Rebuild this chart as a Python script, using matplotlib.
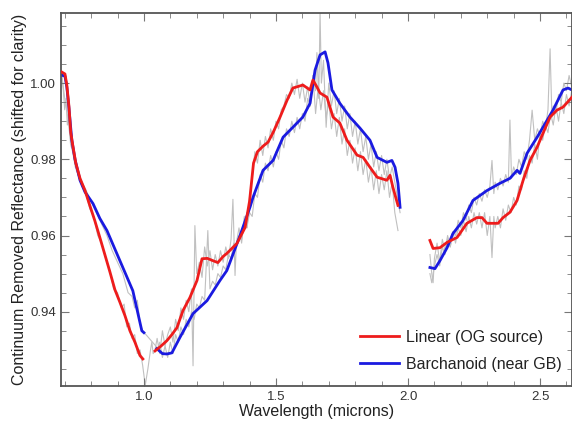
import matplotlib
matplotlib.use("Agg")
import matplotlib.pyplot as plt
from matplotlib.ticker import MultipleLocator

plt.rcParams['font.family'] = ['Liberation Sans', 'DejaVu Sans']

# ---- data ----
lin_x1 = [0.689, 0.701, 0.708, 0.716, 0.723, 0.731, 0.742, 0.758, 0.777, 0.795, 0.814, 0.833,
          0.852, 0.871, 0.890, 0.909, 0.928, 0.947, 0.966, 0.985, 0.996]
lin_y1 = [1.0029, 1.0024, 0.9995, 0.9940, 0.9870, 0.9835, 0.9790, 0.9750, 0.9718, 0.9679, 0.9639, 0.9595,
          0.9550, 0.9505, 0.9458, 0.9425, 0.9390, 0.9350, 0.9320, 0.9285, 0.9276]
bar_x1 = [0.689, 0.701, 0.708, 0.716, 0.727, 0.739, 0.758, 0.777, 0.807, 0.833, 0.860, 0.909, 0.958, 0.992, 1.000]
bar_y1 = [1.0021, 1.0018, 0.9990, 0.9935, 0.9850, 0.9800, 0.9745, 0.9714, 0.9684, 0.9645, 0.9613, 0.9534,
          0.9455, 0.9350, 0.9345]

lin_x2 = [1.042, 1.065, 1.087, 1.106, 1.125, 1.148, 1.174, 1.201, 1.220, 1.240, 1.261, 1.280, 1.300, 1.314,
          1.352, 1.383, 1.400, 1.415, 1.430, 1.452, 1.470, 1.489, 1.515, 1.542, 1.564, 1.602, 1.629, 1.640,
          1.655, 1.667, 1.693, 1.716, 1.742, 1.769, 1.807, 1.830, 1.856, 1.883, 1.920, 1.932, 1.943, 1.962]
lin_y2 = [0.9297, 0.9310, 0.9324, 0.9340, 0.9358, 0.9403, 0.9437, 0.9482, 0.9539, 0.9540, 0.9534, 0.9529,
          0.9545, 0.9553, 0.9579, 0.9621, 0.9690, 0.9790, 0.9820, 0.9835, 0.9845, 0.9870, 0.9910, 0.9955,
          0.9987, 0.9995, 0.9982, 1.0008, 0.9990, 0.9974, 0.9963, 0.9911, 0.9895, 0.9850, 0.9811, 0.9805,
          0.9779, 0.9753, 0.9745, 0.9758, 0.9726, 0.9679]
bar_x2 = [1.049, 1.070, 1.087, 1.106, 1.136, 1.186, 1.239, 1.288, 1.314, 1.364, 1.402, 1.413, 1.451, 1.489,
          1.527, 1.564, 1.602, 1.629, 1.648, 1.667, 1.686, 1.697, 1.712, 1.742, 1.780, 1.818, 1.856, 1.883,
          1.920, 1.939, 1.951, 1.962, 1.970]
bar_y2 = [0.9303, 0.9290, 0.9289, 0.9292, 0.9332, 0.9395, 0.9429, 0.9482, 0.9508, 0.9600, 0.9675, 0.9700,
          0.9771, 0.9797, 0.9858, 0.9884, 0.9911, 0.9947, 1.0034, 1.0074, 1.0082, 1.0053, 0.9982, 0.9947,
          0.9911, 0.9882, 0.9850, 0.9805, 0.9792, 0.9797, 0.9779, 0.9737, 0.9674]

lin_x3 = [2.083, 2.095, 2.121, 2.148, 2.186, 2.223, 2.261, 2.280, 2.299, 2.341, 2.360, 2.386, 2.413, 2.436,
          2.462, 2.489, 2.511, 2.538, 2.564, 2.587, 2.621]
lin_y3 = [0.9587, 0.9566, 0.9568, 0.9582, 0.9595, 0.9632, 0.9647, 0.9647, 0.9632, 0.9632, 0.9647, 0.9661,
          0.9692, 0.9745, 0.9797, 0.9832, 0.9868, 0.9911, 0.9929, 0.9937, 0.9963]
bar_x3 = [2.083, 2.102, 2.121, 2.148, 2.170, 2.208, 2.246, 2.299, 2.348, 2.386, 2.413, 2.424, 2.451, 2.489,
          2.511, 2.549, 2.587, 2.606, 2.621]
bar_y3 = [0.9516, 0.9513, 0.9534, 0.9568, 0.9605, 0.9639, 0.9692, 0.9718, 0.9737, 0.9750, 0.9771, 0.9763,
          0.9816, 0.9858, 0.9884, 0.9929, 0.9982, 0.9987, 0.9982]

# raw (unsmoothed) spectra, drawn in light grey
raw_lin_x1 = [0.689, 0.695, 0.700, 0.705, 0.710, 0.716, 0.722, 0.730, 0.740, 0.750, 0.765, 0.780, 0.795,
              0.810, 0.825, 0.840, 0.855, 0.870, 0.885, 0.900, 0.915, 0.925, 0.935, 0.945, 0.955, 0.965,
              0.975, 0.985, 0.995, 1.005, 1.015, 1.025, 1.030, 1.035,
              1.042, 1.05, 1.06, 1.07, 1.08, 1.09, 1.10, 1.11, 1.12, 1.13, 1.14, 1.15, 1.16, 1.17, 1.18,
              1.186, 1.193, 1.20, 1.21, 1.22, 1.23, 1.24, 1.25, 1.26, 1.27, 1.28, 1.29, 1.30, 1.31, 1.32,
              1.33, 1.337, 1.345, 1.35, 1.36, 1.37, 1.38, 1.39, 1.40, 1.41, 1.42, 1.43, 1.44, 1.45, 1.46,
              1.47, 1.48, 1.49, 1.50, 1.51, 1.52, 1.53, 1.54, 1.55, 1.56, 1.57, 1.58, 1.59, 1.60, 1.61,
              1.62, 1.63, 1.64, 1.65, 1.66, 1.67, 1.68, 1.69, 1.70, 1.71, 1.72, 1.73, 1.74, 1.75, 1.76,
              1.77, 1.78, 1.79, 1.80, 1.81, 1.82, 1.83, 1.84, 1.85, 1.86, 1.87, 1.88, 1.89, 1.90, 1.91,
              1.92, 1.93, 1.94, 1.95, 1.962]
raw_lin_y1 = [1.002, 0.998, 0.993, 0.996, 0.989, 0.991, 0.984, 0.982, 0.978, 0.976, 0.973, 0.971, 0.967,
              0.965, 0.960, 0.958, 0.954, 0.951, 0.946, 0.945, 0.941, 0.942, 0.936, 0.937, 0.933, 0.934,
              0.929, 0.930, 0.926, 0.9207, 0.925, 0.930, 0.932, 0.929,
              0.930, 0.933, 0.929, 0.935, 0.931, 0.934, 0.936, 0.932, 0.938, 0.935, 0.941, 0.938, 0.943,
              0.940, 0.946, 0.9258, 0.9626, 0.950, 0.953, 0.949, 0.957, 0.952, 0.956, 0.951, 0.955, 0.952,
              0.956, 0.953, 0.957, 0.954, 0.959, 0.9695, 0.9495, 0.958, 0.962, 0.958, 0.965, 0.962, 0.970,
              0.975, 0.982, 0.979, 0.985, 0.981, 0.986, 0.983, 0.988, 0.985, 0.990, 0.988, 0.993, 0.994,
              0.997, 0.996, 1.000, 0.997, 1.001, 0.996, 1.000, 0.995, 0.999, 0.994, 1.002, 0.992, 0.999,
              0.993, 0.998, 0.991, 0.995, 0.988, 0.992, 0.986, 0.991, 0.984, 0.988, 0.981, 0.985, 0.979,
              0.983, 0.977, 0.982, 0.976, 0.980, 0.974, 0.978, 0.972, 0.977, 0.971, 0.976, 0.972, 0.977,
              0.970, 0.974, 0.966, 0.9613]
raw_lin_x3 = [2.083, 2.09, 2.095, 2.10, 2.11, 2.12, 2.13, 2.14, 2.15, 2.16, 2.17, 2.18, 2.19, 2.20, 2.21,
              2.22, 2.23, 2.24, 2.25, 2.26, 2.27, 2.28, 2.29, 2.30, 2.31, 2.318, 2.325, 2.33, 2.34, 2.35,
              2.36, 2.37, 2.38, 2.39, 2.40, 2.41, 2.42, 2.43, 2.44, 2.45, 2.46, 2.47, 2.48, 2.49, 2.50,
              2.51, 2.52, 2.53, 2.54, 2.55, 2.56, 2.57, 2.58, 2.59, 2.60, 2.61, 2.62]
raw_lin_y3 = [0.955, 0.950, 0.9476, 0.954, 0.958, 0.953, 0.959, 0.956, 0.960, 0.957, 0.961, 0.958, 0.962,
              0.960, 0.964, 0.961, 0.965, 0.962, 0.966, 0.963, 0.966, 0.962, 0.966, 0.960, 0.965, 0.9542,
              0.965, 0.962, 0.965, 0.962, 0.967, 0.964, 0.968, 0.966, 0.970, 0.968, 0.973, 0.972, 0.977,
              0.975, 0.981, 0.979, 0.984, 0.980, 0.987, 0.985, 0.989, 0.987, 0.992, 0.989, 0.994, 0.990,
              0.995, 0.992, 0.997, 0.994, 0.998]

raw_bar_x1 = [0.689, 0.700, 0.710, 0.720, 0.735, 0.750, 0.765, 0.780, 0.800, 0.820, 0.840, 0.860, 0.880,
              0.900, 0.920, 0.940, 0.955, 0.965, 0.975, 0.985, 0.995, 1.045,
              1.05, 1.06, 1.07, 1.08, 1.09, 1.10, 1.11, 1.12, 1.13, 1.14, 1.15, 1.16, 1.17, 1.18, 1.19,
              1.20, 1.21, 1.22, 1.23, 1.242, 1.25, 1.26, 1.27, 1.28, 1.29, 1.30, 1.31, 1.32, 1.33, 1.34,
              1.35, 1.36, 1.37, 1.38, 1.39, 1.40, 1.41, 1.42, 1.43, 1.44, 1.45, 1.46, 1.47, 1.48, 1.49,
              1.50, 1.51, 1.52, 1.53, 1.54, 1.55, 1.56, 1.57, 1.58, 1.59, 1.60, 1.61, 1.62, 1.63, 1.64,
              1.65, 1.655, 1.662, 1.667, 1.672, 1.68, 1.69, 1.70, 1.71, 1.72, 1.73, 1.74, 1.75, 1.76,
              1.77, 1.78, 1.79, 1.80, 1.81, 1.82, 1.83, 1.84, 1.85, 1.86, 1.87, 1.88, 1.89, 1.90, 1.91,
              1.92, 1.93, 1.94, 1.95, 1.96, 1.97]
raw_bar_y1 = [1.002, 0.996, 0.992, 0.986, 0.981, 0.976, 0.974, 0.972, 0.969, 0.966, 0.963, 0.960, 0.956,
              0.953, 0.950, 0.945, 0.944, 0.941, 0.943, 0.937, 0.935, 0.931,
              0.930, 0.932, 0.928, 0.931, 0.928, 0.932, 0.929, 0.934, 0.932, 0.936, 0.934, 0.938, 0.936,
              0.940, 0.938, 0.942, 0.941, 0.944, 0.943, 0.9613, 0.946, 0.948, 0.947, 0.950, 0.949, 0.952,
              0.951, 0.955, 0.954, 0.958, 0.957, 0.960, 0.959, 0.963, 0.962, 0.966, 0.965, 0.971, 0.970,
              0.976, 0.974, 0.979, 0.977, 0.981, 0.978, 0.982, 0.980, 0.985, 0.983, 0.988, 0.986, 0.990,
              0.987, 0.991, 0.988, 0.992, 0.990, 0.996, 0.994, 1.002, 0.998, 1.008, 0.996, 1.0184, 1.000,
              1.006, 0.9884, 1.000, 0.994, 0.998, 0.992, 0.996, 0.990, 0.994, 0.988, 0.992, 0.986, 0.990,
              0.984, 0.988, 0.982, 0.986, 0.980, 0.984, 0.978, 0.982, 0.977, 0.981, 0.976, 0.980, 0.975,
              0.978, 0.974, 0.970, 0.966]
raw_bar_x3 = [2.083, 2.09, 2.10, 2.11, 2.12, 2.13, 2.14, 2.15, 2.16, 2.17, 2.18, 2.19, 2.20, 2.21, 2.22,
              2.23, 2.24, 2.25, 2.26, 2.27, 2.28, 2.29, 2.30, 2.31, 2.318, 2.325, 2.33, 2.34, 2.35, 2.36,
              2.37, 2.38, 2.386, 2.392, 2.40, 2.41, 2.42, 2.43, 2.44, 2.45, 2.46, 2.47, 2.48, 2.49, 2.50,
              2.51, 2.52, 2.53, 2.538, 2.545, 2.55, 2.56, 2.57, 2.58, 2.59, 2.60, 2.61, 2.62]
raw_bar_y3 = [0.950, 0.9476, 0.952, 0.955, 0.952, 0.957, 0.955, 0.959, 0.957, 0.961, 0.960, 0.964, 0.962,
              0.966, 0.964, 0.968, 0.966, 0.970, 0.968, 0.971, 0.969, 0.972, 0.970, 0.973, 0.9797, 0.971,
              0.974, 0.972, 0.975, 0.973, 0.976, 0.974, 0.9903, 0.975, 0.978, 0.976, 0.980, 0.978, 0.982,
              0.980, 0.985, 0.9929, 0.985, 0.988, 0.986, 0.990, 0.988, 0.993, 1.009, 0.991, 0.994, 0.992,
              0.997, 0.995, 1.000, 0.998, 1.002, 0.999]

labels = ["Linear (OG source)", "Barchanoid (near GB)"]
xticks = [1.0, 1.5, 2.0, 2.5]
yticks = [0.94, 0.96, 0.98, 1.00]

# ---- figure ----
fig = plt.figure(figsize=(5.72, 4.21), dpi=100)
ax = fig.add_axes([61/572, 35/421, 1 - 61/572, (386-13)/421])

grey = '#c0c0c0'
for xs, ys in [(raw_lin_x1, raw_lin_y1), (raw_lin_x3, raw_lin_y3),
               (raw_bar_x1, raw_bar_y1), (raw_bar_x3, raw_bar_y3)]:
    ax.plot(xs, ys, color=grey, lw=0.8, zorder=1)

red = '#ee1c1c'
blue = '#1a1ae0'
for i, (xs, ys) in enumerate([(lin_x1, lin_y1), (lin_x2, lin_y2), (lin_x3, lin_y3)]):
    ax.plot(xs, ys, color=red, lw=2.0, zorder=3, label=labels[0] if i == 0 else None)
for i, (xs, ys) in enumerate([(bar_x1, bar_y1), (bar_x2, bar_y2), (bar_x3, bar_y3)]):
    ax.plot(xs, ys, color=blue, lw=2.0, zorder=2, label=labels[1] if i == 0 else None)

ax.set_xlim(0.686, 2.621)
ax.set_ylim(0.9205, 1.0184)
ax.set_xticks(xticks)
ax.set_xticklabels([f"{v:.1f}" for v in xticks])
ax.set_yticks(yticks)
ax.set_yticklabels([f"{v:.2f}" for v in yticks])
ax.xaxis.set_minor_locator(MultipleLocator(0.1))
ax.yaxis.set_minor_locator(MultipleLocator(0.005))
ax.tick_params(which='both', direction='in', top=True, right=True, colors='#777777',
               labelcolor='#333333', labelsize=9.5)
ax.tick_params(which='major', length=6, width=0.8)
ax.tick_params(which='minor', length=3.5, width=0.6)
for s in ax.spines.values():
    s.set_color('#555555')
    s.set_linewidth(1.3)

ax.set_xlabel("Wavelength (microns)", fontsize=11.5, color='#222222', labelpad=1)
ax.set_ylabel("Continuum Removed Reflectance (shifted for clarity)", fontsize=11.5, color='#222222',
              labelpad=2)

leg = ax.legend(loc='lower right', bbox_to_anchor=(1.0, 0.01), frameon=False, fontsize=11.5,
                handlelength=2.5, handletextpad=0.4, labelspacing=0.75, borderaxespad=0.25)
for t in leg.get_texts():
    t.set_color('#222222')

fig.savefig("out.png", dpi=100)
